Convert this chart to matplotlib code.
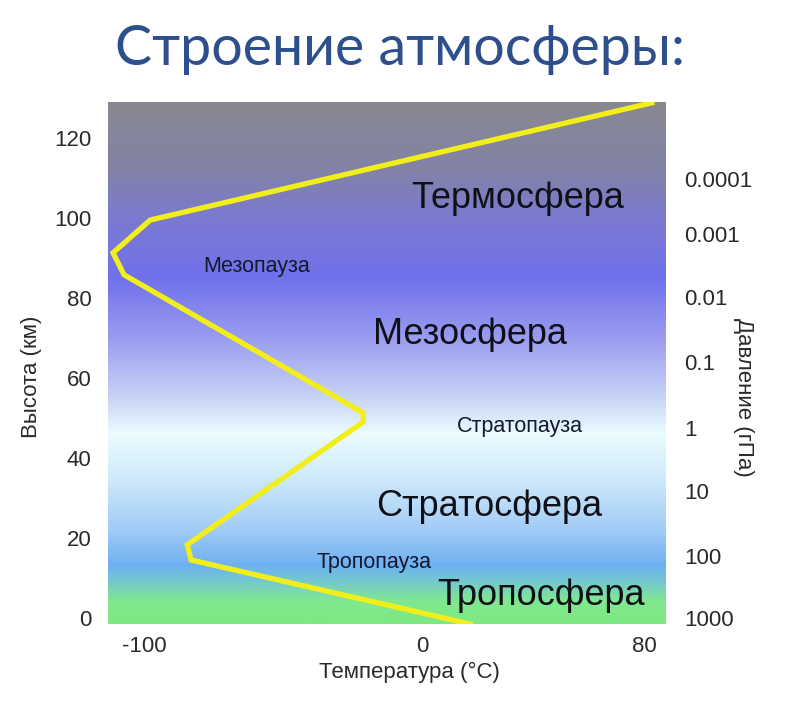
"""
Строение атмосферы: профиль температуры по высоте с давлением на правой оси
"""

import numpy as np
import matplotlib
matplotlib.use('Agg')
import matplotlib.pyplot as plt
from matplotlib.colors import LinearSegmentedColormap, to_rgb

# Профиль температуры (°C) по высоте (км)
temp_c = [17.3, -83.1, -84.5, -21.2, -21.2, -107.2, -111.2, -97.8, 82.7]
height_km = [-1.5, 14.5, 18.3, 49.0, 51.3, 85.8, 91.3, 99.5, 128.8]

# Подписи слоёв: текст, температура, высота
layer_names = ['Термосфера', 'Мезосфера', 'Стратосфера', 'Тропосфера']
layer_t = [34.5, 17.3, 24.0, 42.8]
layer_h = [105.0, 70.8, 28.0, 5.5]

pause_names = ['Мезопауза', 'Стратопауза', 'Тропопауза']
pause_t = [-59.4, 35.3, -17.3]
pause_h = [88.0, 48.0, 13.8]

# Ось давления (гПа) на высотах
pressure_labels = ['1000', '100', '10', '1', '0.1', '0.01', '0.001', '0.0001']
pressure_h = [0, 15.5, 31.8, 47.5, 64.0, 80.3, 96.0, 109.8]

height_ticks = [0, 20, 40, 60, 80, 100, 120]
temp_ticks = [-100, 0, 80]

# Цвета фона по высоте
bg_h = [-1.5, 4, 9, 13, 22, 35, 46, 55, 70, 85, 100, 112, 129]
bg_colors = ['#7ee882', '#80e890', '#74c8d0', '#6eb0f0', '#a2ccf6', '#d0eafa',
             '#eafcff', '#c8d4f6', '#9a9cf0', '#7070ec', '#7a7ad0', '#8282a8',
             '#888890']

XMIN, XMAX = -113, 87.8
YMIN, YMAX = -1.5, 129

plt.rcParams['font.family'] = ['Liberation Sans', 'DejaVu Sans']
plt.rcParams['axes.unicode_minus'] = False

fig = plt.figure(figsize=(8, 7.07), dpi=100)
ax = fig.add_axes([0.135, 0.1174, 0.6975, 0.7383])

# Градиентный фон
nodes = [(h - YMIN) / (YMAX - YMIN) for h in bg_h]
cmap = LinearSegmentedColormap.from_list('atm', list(zip(nodes, [to_rgb(c) for c in bg_colors])))
grad = np.linspace(0, 1, 512).reshape(-1, 1)
ax.imshow(grad, cmap=cmap, origin='lower', aspect='auto',
          extent=[XMIN, XMAX, YMIN, YMAX], zorder=0)

ax.plot(temp_c, height_km, color='#f2ee1c', linewidth=3.8, solid_joinstyle='miter',
        zorder=2, clip_on=True)

for name, t, h in zip(layer_names, layer_t, layer_h):
    ax.text(t, h, name, fontsize=26, ha='center', va='center', color='#101018', zorder=3)
for name, t, h in zip(pause_names, pause_t, pause_h):
    ax.text(t, h, name, fontsize=15.5, ha='center', va='center', color='#141a2e', zorder=3)

ax.set_xlim(XMIN, XMAX)
ax.set_ylim(YMIN, YMAX)
ax.set_xticks(temp_ticks)
ax.set_yticks(height_ticks)
ax.tick_params(length=0, labelsize=16, labelcolor='#2a2a2a')
ax.tick_params(axis='y', pad=12)
ax.tick_params(axis='x', pad=9)
for s in ax.spines.values():
    s.set_visible(False)

ax.set_xlabel('Температура (°C)', fontsize=16, color='#2a2a2a', ha='center', va='center')
ax.xaxis.set_label_coords(0.54, -0.092)
ax.set_ylabel('Высота (км)', fontsize=16, color='#2a2a2a', ha='center', va='center')
ax.yaxis.set_label_coords(-0.137, 0.473)

ax2 = ax.twinx()
ax2.set_ylim(YMIN, YMAX)
ax2.set_yticks(pressure_h)
ax2.set_yticklabels(pressure_labels)
ax2.tick_params(length=0, labelsize=16, labelcolor='#2a2a2a', pad=13)
for s in ax2.spines.values():
    s.set_visible(False)
ax2.set_ylabel('Давление (гПа)', fontsize=16, color='#2a2a2a', rotation=270,
               ha='center', va='center')
ax2.yaxis.set_label_coords(1.138, 0.435)

fig.text(0.5, 0.93, 'Строение атмосферы:', fontsize=40, family=['Lato', 'DejaVu Sans'],
         color='#2d4f8e', ha='center', va='center')

fig.savefig('out.png', dpi=100)
